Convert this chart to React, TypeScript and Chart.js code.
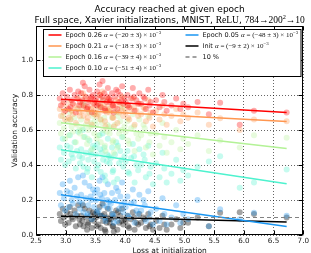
import React, { useEffect, useRef } from 'react';
import { Chart, registerables } from 'chart.js';

Chart.register(...registerables);

// ---------- data ----------
const lossAtInit = [
  2.90, 2.92, 2.95, 2.97, 2.99,
  3.02, 3.05, 3.07, 3.10, 3.12, 3.15, 3.17, 3.19, 3.21, 3.23, 3.24, 3.08,
  3.26, 3.28, 3.30, 3.32, 3.34, 3.36, 3.38, 3.40, 3.42, 3.44, 3.46, 3.48, 3.29, 3.37, 3.43, 3.49,
  3.51, 3.53, 3.55, 3.57, 3.59, 3.61, 3.63, 3.65, 3.67, 3.69, 3.71, 3.73, 3.52, 3.58, 3.62, 3.66, 3.70, 3.74,
  3.76, 3.78, 3.80, 3.83, 3.85, 3.87, 3.90, 3.92, 3.95, 3.97, 3.99, 3.81, 3.88, 3.94, 3.79,
  4.01, 4.04, 4.07, 4.10, 4.13, 4.16, 4.19, 4.22, 4.24, 4.05, 4.15,
  4.27, 4.31, 4.35, 4.39, 4.43, 4.47, 4.33, 4.41,
  4.52, 4.58, 4.63, 4.70, 4.66,
  4.78, 4.86, 4.93, 4.98,
  5.06, 5.22, 5.41,
  5.60, 5.93,
  6.17, 6.72,
];

const accEpoch026 = [
  0.78, 0.74, 0.81, 0.76, 0.71,
  0.79, 0.72, 0.83, 0.77, 0.75, 0.80, 0.70, 0.78, 0.82, 0.74, 0.76, 0.73,
  0.81, 0.77, 0.74, 0.85, 0.79, 0.72, 0.76, 0.83, 0.78, 0.70, 0.80, 0.75, 0.87, 0.73, 0.79, 0.77,
  0.78, 0.82, 0.75, 0.86, 0.73, 0.79, 0.77, 0.81, 0.71, 0.76, 0.84, 0.78, 0.74, 0.80, 0.88, 0.72, 0.79, 0.76,
  0.77, 0.81, 0.74, 0.79, 0.83, 0.72, 0.76, 0.80, 0.85, 0.75, 0.78, 0.70, 0.82, 0.77, 0.74,
  0.76, 0.80, 0.73, 0.78, 0.84, 0.71, 0.77, 0.75, 0.81, 0.74, 0.79,
  0.75, 0.79, 0.72, 0.83, 0.76, 0.70, 0.78, 0.74,
  0.77, 0.73, 0.80, 0.71, 0.76,
  0.74, 0.78, 0.72, 0.75,
  0.73, 0.76, 0.69,
  0.756, 0.63,
  0.71, 0.70,
];

const accEpoch021 = [
  0.72, 0.68, 0.75, 0.70, 0.66,
  0.73, 0.67, 0.76, 0.71, 0.69, 0.74, 0.64, 0.72, 0.78, 0.70, 0.68, 0.66,
  0.74, 0.71, 0.68, 0.79, 0.73, 0.65, 0.70, 0.77, 0.72, 0.63, 0.75, 0.69, 0.81, 0.67, 0.72, 0.70,
  0.72, 0.76, 0.69, 0.80, 0.66, 0.73, 0.71, 0.75, 0.62, 0.70, 0.78, 0.72, 0.68, 0.74, 0.82, 0.65, 0.73, 0.70,
  0.71, 0.75, 0.67, 0.73, 0.77, 0.64, 0.70, 0.74, 0.79, 0.68, 0.72, 0.62, 0.76, 0.71, 0.67,
  0.70, 0.74, 0.66, 0.72, 0.78, 0.63, 0.71, 0.68, 0.75, 0.67, 0.73,
  0.69, 0.73, 0.65, 0.77, 0.70, 0.62, 0.72, 0.67,
  0.71, 0.66, 0.74, 0.63, 0.69,
  0.68, 0.72, 0.65, 0.69,
  0.67, 0.70, 0.63,
  0.667, 0.60,
  0.66, 0.65,
];

const accEpoch016 = [
  0.64, 0.58, 0.68, 0.61, 0.55,
  0.65, 0.57, 0.70, 0.62, 0.59, 0.67, 0.53, 0.63, 0.72, 0.60, 0.58, 0.66,
  0.66, 0.61, 0.56, 0.74, 0.63, 0.52, 0.60, 0.70, 0.64, 0.49, 0.68, 0.58, 0.76, 0.55, 0.62, 0.65,
  0.63, 0.69, 0.57, 0.73, 0.53, 0.64, 0.60, 0.67, 0.48, 0.59, 0.71, 0.62, 0.55, 0.66, 0.77, 0.51, 0.63, 0.58,
  0.61, 0.67, 0.54, 0.63, 0.70, 0.50, 0.58, 0.65, 0.73, 0.56, 0.62, 0.47, 0.68, 0.60, 0.53,
  0.59, 0.65, 0.52, 0.61, 0.69, 0.48, 0.58, 0.55, 0.66, 0.54, 0.62,
  0.57, 0.63, 0.50, 0.68, 0.58, 0.46, 0.61, 0.53,
  0.58, 0.51, 0.64, 0.47, 0.56,
  0.53, 0.60, 0.49, 0.55,
  0.52, 0.57, 0.48,
  0.54, 0.50,
  0.57, 0.556,
];

const accEpoch010 = [
  0.50, 0.43, 0.55, 0.47, 0.40,
  0.51, 0.42, 0.57, 0.46, 0.44, 0.53, 0.38, 0.48, 0.59, 0.45, 0.41, 0.50,
  0.49, 0.44, 0.39, 0.56, 0.47, 0.36, 0.43, 0.54, 0.48, 0.33, 0.51, 0.42, 0.60, 0.38, 0.46, 0.50,
  0.46, 0.52, 0.40, 0.57, 0.36, 0.47, 0.43, 0.50, 0.31, 0.42, 0.55, 0.45, 0.38, 0.49, 0.58, 0.34, 0.46, 0.41,
  0.44, 0.50, 0.37, 0.46, 0.53, 0.32, 0.41, 0.48, 0.56, 0.39, 0.45, 0.30, 0.51, 0.43, 0.36,
  0.42, 0.48, 0.35, 0.44, 0.52, 0.30, 0.40, 0.37, 0.49, 0.36, 0.45,
  0.40, 0.46, 0.33, 0.51, 0.39, 0.29, 0.43, 0.35,
  0.41, 0.33, 0.47, 0.30, 0.38,
  0.35, 0.43, 0.31, 0.37,
  0.34, 0.39, 0.42,
  0.45, 0.27,
  0.30, 0.375,
];

const accEpoch005 = [
  0.24, 0.17, 0.29, 0.21, 0.14,
  0.25, 0.16, 0.31, 0.20, 0.18, 0.27, 0.12, 0.22, 0.33, 0.19, 0.15, 0.24,
  0.23, 0.18, 0.13, 0.30, 0.21, 0.11, 0.17, 0.28, 0.22, 0.09, 0.26, 0.16, 0.34, 0.12, 0.20, 0.24,
  0.20, 0.26, 0.14, 0.31, 0.11, 0.21, 0.17, 0.24, 0.08, 0.16, 0.29, 0.19, 0.13, 0.23, 0.33, 0.10, 0.20, 0.15,
  0.18, 0.24, 0.11, 0.20, 0.27, 0.08, 0.15, 0.22, 0.30, 0.13, 0.19, 0.07, 0.25, 0.17, 0.12,
  0.16, 0.22, 0.10, 0.18, 0.26, 0.07, 0.14, 0.12, 0.23, 0.11, 0.19,
  0.14, 0.20, 0.08, 0.25, 0.13, 0.06, 0.17, 0.10,
  0.15, 0.08, 0.21, 0.06, 0.12,
  0.10, 0.17, 0.07, 0.12,
  0.09, 0.20, 0.05,
  0.147, 0.09,
  0.127, 0.11,
];

const accInit = [
  0.12, 0.08, 0.15, 0.10, 0.06,
  0.13, 0.07, 0.16, 0.10, 0.09, 0.14, 0.05, 0.11, 0.17, 0.09, 0.06, 0.12,
  0.11, 0.08, 0.05, 0.15, 0.10, 0.03, 0.07, 0.14, 0.11, 0.04, 0.13, 0.08, 0.17, 0.06, 0.09, 0.12,
  0.10, 0.13, 0.06, 0.16, 0.04, 0.11, 0.08, 0.12, 0.02, 0.07, 0.15, 0.09, 0.05, 0.11, 0.18, 0.03, 0.10, 0.07,
  0.09, 0.12, 0.05, 0.10, 0.14, 0.03, 0.07, 0.11, 0.15, 0.06, 0.09, 0.02, 0.13, 0.08, 0.05,
  0.08, 0.11, 0.04, 0.09, 0.13, 0.03, 0.07, 0.06, 0.12, 0.05, 0.10,
  0.07, 0.10, 0.04, 0.12, 0.06, 0.03, 0.09, 0.05,
  0.08, 0.04, 0.11, 0.03, 0.06,
  0.06, 0.09, 0.04, 0.07,
  0.07, 0.10, 0.05,
  0.127, 0.13,
  0.12, 0.10,
];

// linear fits (start / end of each fitted line)
const fitLossRange = [2.92, 6.72];
const fitEpoch026 = [0.776, 0.700];
const fitEpoch021 = [0.718, 0.649];
const fitEpoch016 = [0.642, 0.494];
const fitEpoch010 = [0.487, 0.293];
const fitEpoch005 = [0.230, 0.048];
const fitInit = [0.107, 0.075];

const chanceLevel = 0.1;
const chanceRange = [2.5, 7.0];

const seriesNames = ['Epoch 0.26', 'Epoch 0.21', 'Epoch 0.16', 'Epoch 0.10', 'Epoch 0.05', 'Init'];
const alphaMeans = ['\u221220', '\u221218', '\u221239', '\u221251', '\u221248', '\u22129'];
const alphaErrors = ['3', '3', '4', '4', '3', '2'];
const chanceLabel = '10 %';

const xTickValues = [2.5, 3.0, 3.5, 4.0, 4.5, 5.0, 5.5, 6.0, 6.5, 7.0];
const yTickValues = [0.0, 0.2, 0.4, 0.6, 0.8, 1.0];

const titleLine1 = 'Accuracy reached at given epoch';
const xAxisLabel = 'Loss at initialization';
const yAxisLabel = 'Validation accuracy';

// ---------- styling ----------
const seriesRGB = [
  [255, 0, 0],
  [255, 150, 79],
  [179, 242, 150],
  [77, 242, 206],
  [26, 150, 242],
  [0, 0, 0],
];
const SANS = '"DejaVu Sans", sans-serif';
const SERIF = '"Liberation Serif", "DejaVu Serif", serif';

const rgba = (c: number[], a: number) => `rgba(${c[0]},${c[1]},${c[2]},${a})`;

type Seg = { t: string; f: string; dy?: number };

function segWidth(ctx: CanvasRenderingContext2D, segs: Seg[]) {
  let w = 0;
  for (const s of segs) {
    ctx.font = s.f;
    w += ctx.measureText(s.t).width;
  }
  return w;
}

function drawSegs(ctx: CanvasRenderingContext2D, segs: Seg[], x: number, y: number) {
  let cx = x;
  for (const s of segs) {
    ctx.font = s.f;
    ctx.fillText(s.t, cx, y + (s.dy || 0));
    cx += ctx.measureText(s.t).width;
  }
  return cx;
}

const decorPlugin = {
  id: 'decor',
  afterDraw(chart: any) {
    const { ctx, chartArea: a, scales } = chart;
    ctx.save();

    // frame
    ctx.strokeStyle = '#000';
    ctx.lineWidth = 1;
    ctx.setLineDash([]);
    const L = Math.round(a.left) + 0.5, R = Math.round(a.right) - 0.5;
    const T = Math.round(a.top) + 0.5, B = Math.round(a.bottom) - 0.5;
    ctx.strokeRect(L, T, R - L, B - T);

    // inward ticks on all sides
    ctx.beginPath();
    for (const v of xTickValues) {
      const px = Math.round(scales.x.getPixelForValue(v)) + 0.5;
      ctx.moveTo(px, B); ctx.lineTo(px, B - 4);
      ctx.moveTo(px, T); ctx.lineTo(px, T + 4);
    }
    for (const v of yTickValues) {
      const py = Math.round(scales.y.getPixelForValue(v)) + 0.5;
      ctx.moveTo(L, py); ctx.lineTo(L + 4, py);
      ctx.moveTo(R, py); ctx.lineTo(R - 4, py);
    }
    ctx.stroke();

    // titles
    const cx = (a.left + a.right) / 2;
    ctx.fillStyle = '#000';
    ctx.textBaseline = 'alphabetic';
    ctx.textAlign = 'left';
    const tf = 9;
    const seg1: Seg[] = [{ t: titleLine1, f: `${tf}px ${SANS}` }];
    drawSegs(ctx, seg1, cx - segWidth(ctx, seg1) / 2, 12.3);
    const seg2: Seg[] = [
      { t: 'Full space, Xavier initializations, MNIST, ', f: `${tf}px ${SANS}` },
      { t: 'ReLU', f: `${tf + 0.5}px ${SERIF}` },
      { t: ', ', f: `${tf}px ${SANS}` },
      { t: '784\u2192200', f: `${tf + 0.5}px ${SERIF}` },
      { t: '2', f: `${tf * 0.7}px ${SERIF}`, dy: -3.5 },
      { t: '\u219210', f: `${tf + 0.5}px ${SERIF}` },
    ];
    drawSegs(ctx, seg2, cx - segWidth(ctx, seg2) / 2, 22.7);

    // axis labels
    ctx.font = `7.5px ${SANS}`;
    ctx.textAlign = 'center';
    ctx.textBaseline = 'middle';
    ctx.fillStyle = '#111';
    ctx.fillText(xAxisLabel, cx, 251.5);
    ctx.save();
    ctx.translate(15, (a.top + a.bottom) / 2);
    ctx.rotate(-Math.PI / 2);
    ctx.fillText(yAxisLabel, 0, 0);
    ctx.restore();

    // legend
    const bx = Math.round(a.left) + 7.5, by = Math.round(a.top) + 3.5;
    const bw = Math.round(a.right) - 2 - bx, bh = 47;
    ctx.fillStyle = '#fff';
    ctx.fillRect(bx, by, bw, bh);
    ctx.strokeStyle = '#000';
    ctx.lineWidth = 1;
    ctx.strokeRect(bx, by, bw, bh);

    const rowY = [by + 5.5, by + 16.5, by + 27.5, by + 38.5];
    const cols = [bx + 5, bx + 142];
    const fs = 6.5;
    const ms = 7;
    const entries: { col: number; row: number; i: number }[] = [
      { col: 0, row: 0, i: 0 }, { col: 0, row: 1, i: 1 }, { col: 0, row: 2, i: 2 }, { col: 0, row: 3, i: 3 },
      { col: 1, row: 0, i: 4 }, { col: 1, row: 1, i: 5 },
    ];
    ctx.textAlign = 'left';
    ctx.textBaseline = 'middle';
    for (const e of entries) {
      const x0 = cols[e.col], y0 = rowY[e.row];
      ctx.strokeStyle = rgba(seriesRGB[e.i], 1);
      ctx.lineWidth = 1.5;
      ctx.setLineDash([]);
      ctx.beginPath();
      ctx.moveTo(x0, y0); ctx.lineTo(x0 + 13, y0);
      ctx.stroke();
      ctx.fillStyle = '#111';
      const segs: Seg[] = [
        { t: seriesNames[e.i] + ' ', f: `${fs}px ${SANS}` },
        { t: '\u03b1', f: `italic ${ms}px ${SERIF}` },
        { t: ` = (${alphaMeans[e.i]} \u00b1 ${alphaErrors[e.i]}) \u00d7 10`, f: `${ms}px ${SERIF}` },
        { t: '\u22123', f: `${ms * 0.7}px ${SERIF}`, dy: -2.5 },
      ];
      drawSegs(ctx, segs, x0 + 17, y0 + 0.5);
    }
    // chance entry
    {
      const x0 = cols[1], y0 = rowY[2];
      ctx.strokeStyle = 'rgba(130,130,130,1)';
      ctx.lineWidth = 1.5;
      ctx.setLineDash([4, 3]);
      ctx.beginPath();
      ctx.moveTo(x0, y0); ctx.lineTo(x0 + 13, y0);
      ctx.stroke();
      ctx.setLineDash([]);
      ctx.fillStyle = '#111';
      ctx.font = `${fs}px ${SANS}`;
      ctx.fillText(chanceLabel, x0 + 17, y0 + 0.5);
    }
    ctx.restore();
  },
};

export default function App() {
  const ref = useRef<HTMLCanvasElement>(null);

  useEffect(() => {
    const canvas = ref.current;
    if (!canvas) return;

    const accSeries = [accEpoch026, accEpoch021, accEpoch016, accEpoch010, accEpoch005, accInit];
    const fitSeries = [fitEpoch026, fitEpoch021, fitEpoch016, fitEpoch010, fitEpoch005, fitInit];

    const scatterSets = accSeries.map((vals, i) => ({
      type: 'scatter' as const,
      label: seriesNames[i] + ' points',
      data: lossAtInit.map((x, j) => ({ x, y: vals[j] })),
      backgroundColor: rgba(seriesRGB[i], i === 5 ? 0.36 : 0.32),
      borderWidth: 0,
      pointRadius: 3,
      pointHoverRadius: 3,
      order: 10 + i,
    }));
    const fitSets = fitSeries.map((vals, i) => ({
      type: 'line' as const,
      label: seriesNames[i],
      data: fitLossRange.map((x, j) => ({ x, y: vals[j] })),
      borderColor: rgba(seriesRGB[i], 1),
      backgroundColor: rgba(seriesRGB[i], 1),
      borderWidth: 1.5,
      pointRadius: 0,
      fill: false,
      order: 1 + i,
    }));
    const chanceSet = {
      type: 'line' as const,
      label: chanceLabel,
      data: chanceRange.map((x) => ({ x, y: chanceLevel })),
      borderColor: 'rgba(130,130,130,1)',
      borderWidth: 1.2,
      borderDash: [4, 3],
      pointRadius: 0,
      fill: false,
      order: 0,
    };

    const chart = new Chart(canvas, {
      type: 'scatter',
      data: { datasets: [...scatterSets, ...fitSets, chanceSet] as any },
      options: {
        animation: false,
        responsive: false,
        events: [],
        layout: { padding: { top: 26, right: 4, left: 0, bottom: 0 }, autoPadding: false } as any,
        plugins: { legend: { display: false }, tooltip: { enabled: false }, title: { display: false } },
        scales: {
          x: {
            type: 'linear',
            min: 2.5,
            max: 7.0,
            afterBuildTicks: (s: any) => { s.ticks = xTickValues.map((value) => ({ value })); },
            afterFit: (s: any) => { s.height = 18; },
            ticks: {
              callback: (v: any) => Number(v).toFixed(1),
              font: { family: SANS, size: 7.2 },
              color: '#222',
              padding: 2,
              autoSkip: false,
              maxRotation: 0,
            },
            grid: { color: 'rgba(0,0,0,0.6)', lineWidth: 1, drawTicks: false },
            border: { display: false, dash: [1, 2] },
          },
          y: {
            type: 'linear',
            min: 0,
            max: 1.195,
            afterBuildTicks: (s: any) => { s.ticks = yTickValues.map((value) => ({ value })); },
            afterFit: (s: any) => { s.width = 36; },
            ticks: {
              callback: (v: any) => Number(v).toFixed(1),
              font: { family: SANS, size: 7.2 },
              color: '#222',
              padding: 3,
            },
            grid: { color: 'rgba(0,0,0,0.6)', lineWidth: 1, drawTicks: false },
            border: { display: false, dash: [1, 2] },
          },
        },
      } as any,
      plugins: [decorPlugin],
    });

    return () => chart.destroy();
  }, []);

  return (
    <div style={{ position: 'absolute', left: 0, top: 0, width: 311, height: 253, background: '#fff' }}>
      <canvas ref={ref} width={311} height={253} style={{ display: 'block' }} />
    </div>
  );
}
